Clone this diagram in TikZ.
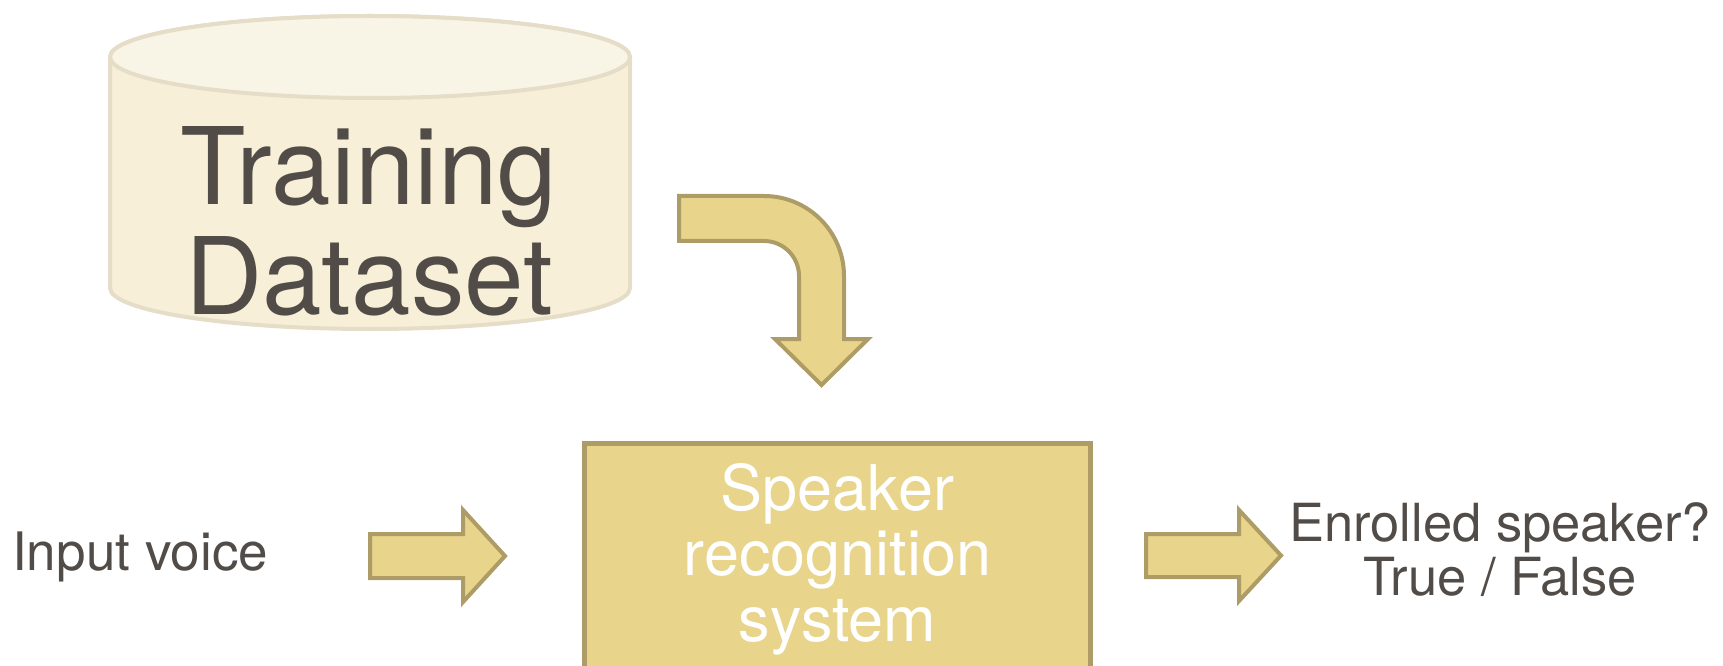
\documentclass[tikz,border=0pt]{standalone}
\usepackage{fontspec}
\setmainfont{TeX Gyre Heros}
\definecolor{txt}{HTML}{514C47}
\definecolor{arrfill}{HTML}{E8D48B}
\definecolor{arrline}{HTML}{AD9C65}
\definecolor{cylbody}{HTML}{F7EFD7}
\definecolor{cyltop}{HTML}{F9F5E6}
\definecolor{cylline}{HTML}{E5DDC7}
\tikzset{
  cylstyle/.style={draw=cylline, line width=4pt, line join=round},
  blockarrow/.style={draw=arrline, fill=arrfill, line width=4pt, line join=miter},
  srsbox/.style={draw=arrline, fill=arrfill, line width=5pt, rectangle, inner sep=0pt},
  darktext/.style={text=txt, inner sep=0pt, align=center},
}
\begin{document}
\begin{tikzpicture}[x=1pt,y=1pt]
\useasboundingbox (0,0) rectangle (1723,665);
\clip (0,0) rectangle (1723,665);
% cylinder (Training Dataset)
\filldraw[cylstyle, fill=cylbody] (110,608) -- (110,377)
  arc[start angle=180, end angle=360, x radius=260, y radius=41]
  -- (630,608)
  arc[start angle=0, end angle=180, x radius=260, y radius=41] -- cycle;
\filldraw[cylstyle, fill=cyltop] (370,608) ellipse[x radius=260, y radius=41];
\node[darktext, font=\fontsize{107}{110}\selectfont] (train) at (369,443.5) {Training\\Dataset};
% bent arrow
\draw[blockarrow] (679,469) -- (764,469) arc[start angle=90, end angle=0, radius=80]
  -- (844,326) -- (868,326) -- (821.5,280) -- (775,326) -- (799,326) -- (799,389)
  arc[start angle=0, end angle=90, radius=35] -- (679,424) -- cycle;
% speaker recognition system
\node[srsbox, minimum width=506, minimum height=241.5] (srs) at (837.5,100.75) {};
\node[text=white, inner sep=0pt, align=center, font=\fontsize{63}{65.5}\selectfont] (srstext) at (837.5,106) {Speaker\\recognition\\system};
% input voice
\node[darktext, anchor=base west, font=\fontsize{53}{60}\selectfont] (input) at (12,95) {Input voice};
\draw[blockarrow] (370,131) -- (463,131) -- (463,155) -- (505,109) -- (463,63) -- (463,87) -- (370,87) -- cycle;
% output
\draw[blockarrow] (1146,131) -- (1239,131) -- (1239,155) -- (1281,109.5) -- (1239,64) -- (1239,88) -- (1146,88) -- cycle;
\node[darktext, font=\fontsize{52.5}{54}\selectfont] (out) at (1500,115.5) {Enrolled speaker?\\True / False};
\end{tikzpicture}
\end{document}
